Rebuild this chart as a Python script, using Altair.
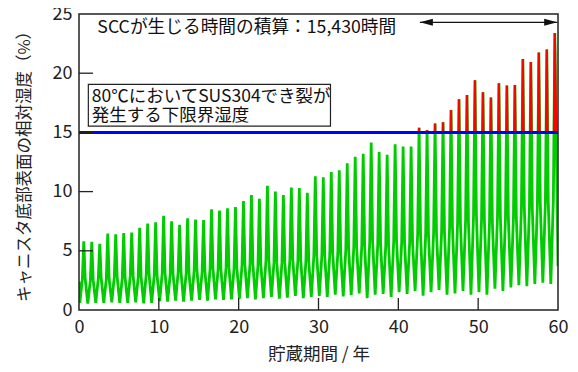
import altair as alt
import pandas as pd

# ---- data ----
PEAKS = [5.8, 5.75, 5.6, 6.45, 6.4, 6.5, 6.55, 6.95, 7.3, 7.4,
         7.95, 7.5, 7.2, 7.75, 7.65, 7.6, 8.5, 8.4, 8.6, 8.7,
         9.2, 9.7, 9.4, 10.5, 10.0, 9.7, 10.35, 10.3, 9.9, 11.3,
         11.2, 11.65, 11.8, 12.4, 12.95, 13.2, 14.15, 13.35, 13.1, 14.0,
         13.8, 13.8, 15.4, 15.2, 15.75, 15.85, 16.9, 17.8, 18.15, 19.4,
         18.4, 17.95, 19.15, 18.95, 19.0, 21.2, 20.95, 21.75, 22.0, 23.4]
TROUGHS = [0.6, 0.55, 0.6, 0.6, 0.65, 0.6, 0.6, 0.65, 0.55, 0.6,
           0.75, 0.7, 0.8, 0.7, 0.8, 0.85, 0.8, 0.9, 0.85, 0.9,
           0.95, 1.0, 0.9, 1.0, 1.1, 0.95, 1.05, 1.2, 1.0, 1.1,
           1.2, 1.1, 1.3, 1.15, 1.25, 1.4, 1.0, 1.3, 1.35, 1.1,
           1.5, 1.35, 1.6, 1.2, 1.5, 1.7, 1.3, 1.4, 1.6, 1.3,
           1.5, 1.3, 1.8, 1.6, 1.9, 2.1, 2.0, 2.2, 2.3, 2.2]
SHOULDERS = [2.6, 2.5, 2.7, 2.6, 2.8, 2.7, 2.9, 2.8, 3.0, 2.9,
             3.1, 3.0, 3.2, 3.1, 3.3, 3.2, 3.5, 3.4, 3.6, 3.5,
             3.8, 3.9, 3.8, 4.2, 4.0, 4.0, 4.3, 4.2, 4.1, 4.6,
             4.6, 4.8, 4.8, 5.1, 5.3, 5.4, 5.8, 5.5, 5.4, 5.8,
             5.7, 5.7, 6.4, 6.3, 6.5, 6.6, 7.0, 7.3, 7.5, 8.0,
             7.6, 7.4, 7.9, 7.8, 7.8, 8.7, 8.6, 9.0, 9.1, 9.4]
START_VALUE = 2.4
END_VALUE = 3.7
THRESHOLD = 15
X_TICKS = [10, 20, 30, 40, 50]
Y_TICKS = [5, 10, 15, 20]

# ---- build the series (trough -> shoulder -> peak -> shoulder each year) ----
rows = [(0.0, START_VALUE)]
for k in range(len(PEAKS)):
    rows.append((k + 0.1, TROUGHS[k]))
    rows.append((k + 0.42, SHOULDERS[k]))
    rows.append((k + 0.6, PEAKS[k]))
    if k < len(PEAKS) - 1:
        rows.append((k + 0.78, SHOULDERS[k]))
rows.append((60.0, END_VALUE))
df = pd.DataFrame(rows, columns=["t", "v"])

# red runs: parts of the line above the threshold
red = []
run = 0
for (t0, v0), (t1, v1) in zip(rows[:-1], rows[1:]):
    if v0 < THRESHOLD <= v1:
        run += 1
        tc = t0 + (THRESHOLD - v0) / (v1 - v0) * (t1 - t0)
        red.append((tc, THRESHOLD, run))
        red.append((t1, v1, run))
    elif v0 >= THRESHOLD and v1 >= THRESHOLD:
        red.append((t1, v1, run))
    elif v0 >= THRESHOLD > v1:
        tc = t0 + (v0 - THRESHOLD) / (v0 - v1) * (t1 - t0)
        red.append((tc, THRESHOLD, run))
red_df = pd.DataFrame(red, columns=["t", "v", "run"])

W, H = 479, 296
FONT = "Noto Sans CJK JP"

xs = alt.Scale(domain=[0, 60], nice=False)
ys = alt.Scale(domain=[0, 25], nice=False)

x_axis = alt.Axis(values=[0, 10, 20, 30, 40, 50, 60], title="貯蔵期間 / 年", grid=False,
                  ticks=False, domain=False, labelFontSize=18, labelPadding=8, labelFlush=False,
                  titleFontSize=17.5, titlePadding=9, labelFont=FONT, titleFont=FONT,
                  labelColor="#222", titleColor="#222", titleFontWeight="normal")
y_axis = alt.Axis(values=[0, 5, 10, 15, 20, 25], title="キャニスタ底部表面の相対湿度（%）", grid=False,
                  ticks=False, domain=False, labelFontSize=18, labelPadding=7, labelFlush=False,
                  titleFontSize=16.5, titlePadding=20, labelFont=FONT, titleFont=FONT,
                  labelColor="#222", titleColor="#222", titleFontWeight="normal")

green = alt.Chart(df).mark_line(color="#00cc00", strokeWidth=2.8, clip=True).encode(
    x=alt.X("t:Q", scale=xs, axis=x_axis),
    y=alt.Y("v:Q", scale=ys, axis=y_axis),
)
redline = alt.Chart(red_df).mark_line(color="#ff0000", strokeWidth=2.2, clip=True).encode(
    x=alt.X("t:Q", scale=xs), y=alt.Y("v:Q", scale=ys), detail="run:N"
)
blue = alt.Chart(pd.DataFrame({"y": [THRESHOLD]})).mark_rule(color="#0000ff", strokeWidth=3).encode(
    y=alt.Y("y:Q", scale=ys)
)

xt = alt.Chart(pd.DataFrame({"v": X_TICKS})).mark_rule(color="#222", strokeWidth=1.3).encode(
    x=alt.X("v:Q", scale=xs), y=alt.value(H), y2=alt.value(H - 12)
)
yt = alt.Chart(pd.DataFrame({"v": Y_TICKS})).mark_rule(color="#222", strokeWidth=1.3).encode(
    y=alt.Y("v:Q", scale=ys), x=alt.value(0), x2=alt.value(14)
)
frame = alt.Chart(pd.DataFrame({"a": [0]})).mark_rect(fill=None, stroke="#222", strokeWidth=1.5).encode(
    x=alt.value(0), x2=alt.value(W), y=alt.value(0), y2=alt.value(H)
)

# annotation box
box_df = pd.DataFrame({"x": [1.17], "x2": [31.5], "y": [15.53], "y2": [19.05]})
box = alt.Chart(box_df).mark_rect(fill="white", stroke="#222", strokeWidth=1.2).encode(
    x=alt.X("x:Q", scale=xs), x2="x2", y=alt.Y("y:Q", scale=ys), y2="y2"
)
box_text = alt.Chart(pd.DataFrame({
    "x": [1.6, 1.6], "y": [18.0, 16.35],
    "label": ["80℃においてSUS304でき裂が", "発生する下限界湿度"]})).mark_text(
    align="left", baseline="middle", font=FONT, fontSize=17.5, color="#111"
).encode(x=alt.X("x:Q", scale=xs), y=alt.Y("y:Q", scale=ys), text="label:N")

top_text = alt.Chart(pd.DataFrame({"x": [2.3], "y": [23.8],
                                   "label": ["SCCが生じる時間の積算：15,430時間"]})).mark_text(
    align="left", baseline="middle", font=FONT, fontSize=17.7, color="#111"
).encode(x=alt.X("x:Q", scale=xs), y=alt.Y("y:Q", scale=ys), text="label:N")

# double arrow
arr_df = pd.DataFrame({"x": [42.7], "x2": [59.9], "y": [24.3]})
arrow = alt.Chart(arr_df).mark_rule(color="#111", strokeWidth=1.2).encode(
    x=alt.X("x:Q", scale=xs), x2="x2", y=alt.Y("y:Q", scale=ys)
)
head_l = alt.Chart(arr_df).mark_point(shape="M0,0L2,-0.55L2,0.55Z", filled=True, color="#111",
                                      size=169, opacity=1).encode(
    x=alt.X("x:Q", scale=xs), y=alt.Y("y:Q", scale=ys))
head_r = alt.Chart(arr_df).mark_point(shape="M0,0L-2,-0.55L-2,0.55Z", filled=True, color="#111",
                                      size=169, opacity=1).encode(
    x=alt.X("x2:Q", scale=xs), y=alt.Y("y:Q", scale=ys))

chart = alt.layer(green, redline, blue, xt, yt, frame, box, box_text, top_text, arrow, head_l, head_r).properties(
    width=W, height=H,
    autosize=alt.AutoSizeParams(type="none"),
    padding={"left": 71, "top": 6, "right": 12, "bottom": 54},
    background="white",
).configure_view(stroke=None)

chart.save("out.html", embed_options={"renderer": "svg", "actions": False})
